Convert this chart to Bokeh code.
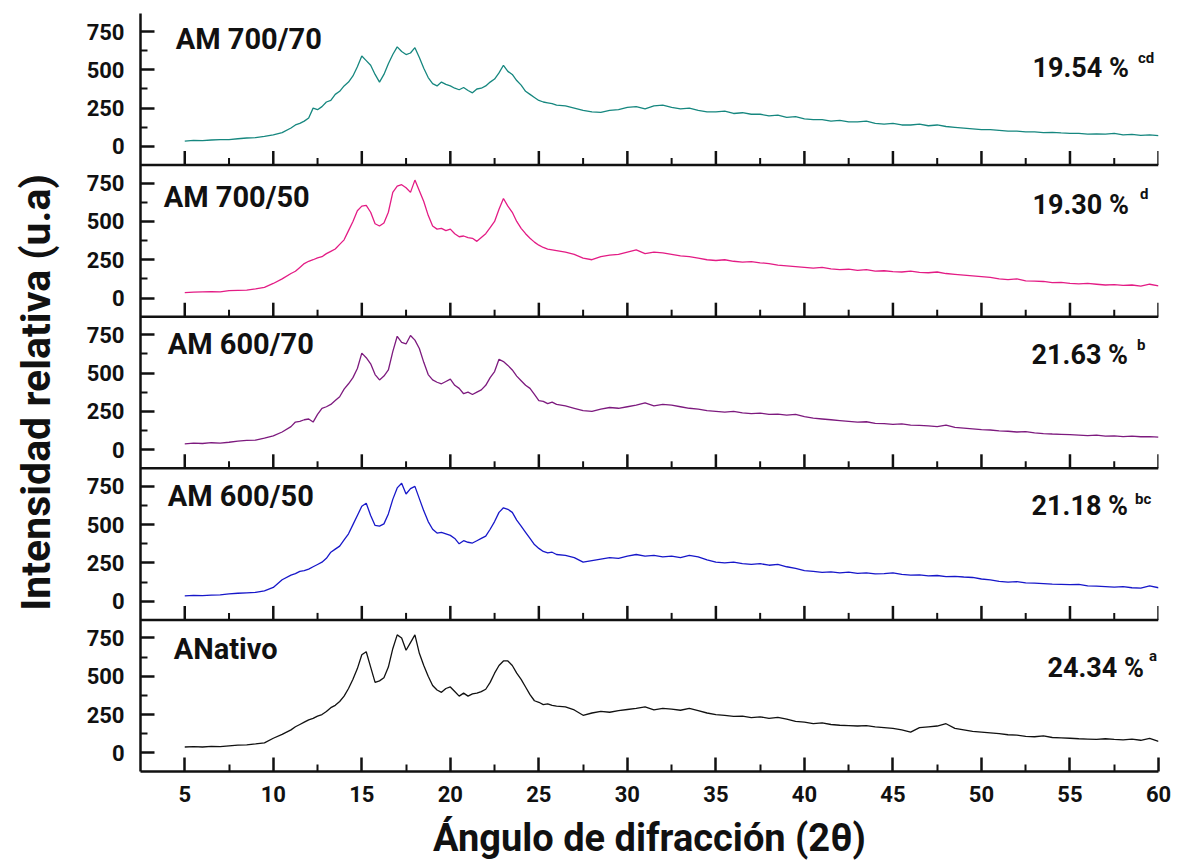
import numpy as np
from bokeh.plotting import figure
from bokeh.models import Range1d, FixedTicker, Span
from bokeh.core.properties import value
from bokeh.embed import file_html
from bokeh.resources import INLINE

# ---------------- data ----------------
X_LOW = [5.0, 5.5, 6.0, 6.5, 7.0, 7.5, 8.0, 8.5, 9.0, 9.5, 10.0, 10.5, 11.0]
X_MID = [11.25, 11.5, 11.75, 12.0, 12.25, 12.5, 12.75, 13.0, 13.25, 13.5, 13.75, 14.0,
         14.25, 14.5, 14.75, 15.0, 15.25, 15.5, 15.75, 16.0, 16.25, 16.5, 16.75, 17.0,
         17.25, 17.5, 17.75, 18.0, 18.25, 18.5, 18.75, 19.0, 19.25, 19.5, 19.75, 20.0,
         20.25, 20.5, 20.75, 21.0, 21.25, 21.5, 21.75, 22.0, 22.25, 22.5, 22.75, 23.0,
         23.25, 23.5, 23.75, 24.0, 24.25, 24.5, 24.75, 25.0, 25.25, 25.5, 25.75, 26.0]
X_HIGH = [26.5, 27.0, 27.5, 28.0, 28.5, 29.0, 29.5, 30.0, 30.5, 31.0, 31.5, 32.0, 32.5,
          33.0, 33.5, 34.0, 34.5, 35.0, 35.5, 36.0, 36.5, 37.0, 37.5, 38.0, 38.5, 39.0,
          39.5, 40.0, 40.5, 41.0, 41.5, 42.0, 42.5, 43.0, 43.5, 44.0, 44.5, 45.0, 45.5,
          46.0, 46.5, 47.0, 47.5, 48.0, 48.5, 49.0, 49.5, 50.0, 50.5, 51.0, 51.5, 52.0,
          52.5, 53.0, 53.5, 54.0, 54.5, 55.0, 55.5, 56.0, 56.5, 57.0, 57.5, 58.0, 58.5,
          59.0, 59.5, 60.0]

AM700_70 = ([35, 40, 38, 42, 45, 44, 50, 55, 58, 65, 75, 90, 120]
            + [140, 150, 165, 185, 250, 240, 260, 290, 300, 340, 360, 395, 420, 460, 520, 590,
               560, 530, 470, 420, 470, 540, 600, 650, 620, 600, 610, 645, 580, 510, 450, 410,
               395, 420, 405, 395, 380, 370, 385, 365, 350, 375, 380, 395, 420, 440, 480, 530,
               490, 470, 430, 400, 360, 340, 320, 300, 290, 285, 280, 270]
            + [265, 250, 235, 225, 222, 235, 240, 255, 260, 245, 265, 270, 255, 245, 250, 235,
               225, 225, 230, 215, 220, 210, 210, 200, 205, 190, 195, 180, 175, 175, 165, 170,
               160, 160, 165, 150, 145, 150, 140, 140, 145, 135, 140, 130, 125, 120, 115, 110,
               110, 105, 100, 100, 95, 95, 90, 92, 88, 85, 85, 80, 82, 80, 85, 75, 78, 72, 75, 70])

AM700_50 = ([35, 38, 40, 42, 40, 48, 50, 52, 60, 70, 95, 125, 160]
            + [175, 200, 225, 240, 250, 262, 270, 290, 305, 320, 350, 380, 440, 500, 570, 600,
               605, 560, 485, 470, 490, 560, 690, 730, 740, 720, 690, 770, 700, 630, 540, 470,
               450, 455, 440, 450, 420, 400, 405, 395, 390, 370, 395, 420, 460, 500, 580, 650,
               600, 560, 500, 455, 420, 390, 365, 345, 330, 320, 315, 310]
            + [300, 285, 260, 250, 270, 280, 285, 300, 315, 290, 300, 295, 285, 275, 270, 260,
               250, 245, 250, 240, 235, 238, 230, 225, 215, 210, 205, 200, 195, 200, 190, 185,
               188, 180, 185, 175, 178, 172, 170, 175, 168, 165, 170, 160, 155, 150, 145, 140,
               135, 125, 120, 125, 112, 110, 108, 100, 102, 95, 92, 95, 90, 85, 88, 82, 85, 78, 90, 80])

AM600_70 = ([38, 42, 40, 45, 42, 48, 55, 60, 62, 75, 90, 115, 150]
            + [180, 185, 195, 200, 180, 230, 270, 280, 295, 320, 345, 395, 430, 470, 530, 630,
               600, 560, 490, 455, 480, 520, 640, 740, 700, 690, 745, 715, 660, 570, 490, 455,
               440, 430, 445, 460, 420, 400, 365, 375, 360, 375, 390, 420, 470, 510, 590, 575,
               550, 520, 480, 450, 420, 400, 360, 320, 315, 300, 310, 295]
            + [285, 270, 255, 250, 265, 275, 270, 280, 290, 305, 285, 295, 290, 280, 270, 265,
               255, 250, 245, 250, 240, 235, 238, 230, 232, 225, 230, 215, 205, 200, 195, 190,
               185, 180, 182, 172, 170, 165, 168, 160, 158, 155, 150, 160, 145, 140, 135, 130,
               128, 122, 120, 115, 118, 110, 105, 102, 100, 98, 95, 92, 95, 88, 90, 85, 88, 84, 85, 82])

AM600_50 = ([35, 38, 36, 40, 42, 48, 52, 55, 58, 68, 90, 140, 170]
            + [180, 195, 200, 210, 225, 240, 255, 280, 320, 340, 360, 400, 440, 500, 560, 620,
               640, 560, 495, 490, 505, 570, 665, 740, 770, 700, 735, 750, 670, 590, 520, 470,
               445, 450, 440, 430, 410, 375, 395, 385, 380, 395, 410, 425, 470, 520, 580, 610,
               600, 580, 530, 490, 450, 410, 370, 345, 325, 315, 320, 305]
            + [300, 285, 255, 265, 275, 285, 280, 295, 305, 295, 300, 290, 295, 285, 300, 290,
               270, 255, 250, 255, 245, 240, 245, 235, 240, 225, 215, 200, 195, 188, 192, 185,
               190, 182, 185, 178, 180, 185, 175, 170, 172, 165, 168, 160, 162, 158, 155, 145,
               140, 130, 125, 128, 120, 118, 115, 112, 110, 108, 110, 100, 98, 95, 92, 95, 88, 85, 100, 88])

ANATIVO = ([38, 40, 38, 42, 40, 45, 50, 52, 58, 65, 95, 120, 150]
           + [170, 185, 200, 215, 225, 240, 250, 270, 295, 310, 335, 370, 420, 480, 550, 640,
              660, 560, 460, 470, 490, 560, 680, 770, 750, 670, 720, 770, 650, 570, 500, 440,
              410, 395, 420, 430, 400, 370, 390, 370, 385, 390, 400, 415, 460, 520, 570, 600,
              600, 570, 520, 480, 430, 380, 340, 330, 315, 320, 310, 305]
           + [300, 280, 245, 260, 270, 265, 275, 283, 290, 300, 280, 290, 285, 278, 290, 275,
              260, 250, 245, 238, 240, 230, 235, 225, 232, 220, 205, 200, 190, 195, 185, 180,
              178, 175, 178, 170, 165, 160, 150, 135, 165, 170, 175, 190, 160, 150, 140, 135,
              130, 125, 118, 115, 108, 105, 110, 100, 98, 95, 92, 90, 88, 92, 88, 85, 90, 82, 95, 75])

SAMPLES = ["AM 700/70", "AM 700/50", "AM 600/70", "AM 600/50", "ANativo"]
CRYST = ["19.54 %", "19.30 %", "21.63 %", "21.18 %", "24.34 %"]
LETTERS = ["cd", "d", "b", "bc", "a"]
SERIES = [AM700_70, AM700_50, AM600_70, AM600_50, ANATIVO]
Y_TICKS = [0, 250, 500, 750]
Y_MINOR = [125, 375, 625]
X_TICKS = [5, 10, 15, 20, 25, 30, 35, 40, 45, 50, 55, 60]
X_MINOR = [7.5, 12.5, 17.5, 22.5, 27.5, 32.5, 37.5, 42.5, 47.5, 52.5, 57.5]

X = X_LOW + X_MID + X_HIGH
for s in SERIES:
    assert len(s) == len(X), (len(s), len(X))

# ---------------- style / layout ----------------
COLORS = ["#16877f", "#e31c85", "#7d1a7e", "#1717c9", "#111111"]
NAME_X = [4.49, 3.81, 4.04, 4.04, 4.38]
NAME_Y = [700, 662, 688, 688, 680]
PCT_X = [58.33, 58.33, 58.28, 58.28, 59.18]
PCT_Y = [515, 607, 620, 620, 556]
SUP_X = [58.84, 58.95, 58.78, 58.67, 59.46]
SUP_Y = [575, 680, 685, 668, 632]

STRIDE = 990
LO, HI = -122, 868
FONT = "Roboto"

p = figure(width=1181, height=863, output_backend="svg", toolbar_location=None,
           x_range=Range1d(2.5, 60), y_range=Range1d(LO, HI + STRIDE * 4),
           min_border_left=140, min_border_right=23, min_border_top=13, min_border_bottom=92,
           outline_line_color=None, background_fill_color="white", border_fill_color="white")
p.xgrid.visible = False
p.ygrid.visible = False

n = len(SERIES)
for i in range(n):
    k = n - 1 - i
    p.extra_y_ranges[f"r{i}"] = Range1d(LO - STRIDE * k, HI + STRIDE * (4 - k))

# left axis with repeated per-panel ticks
major = [STRIDE * k + v for k in range(n) for v in Y_TICKS]
minor = [STRIDE * k + v for k in range(n) for v in Y_MINOR]
p.yaxis.ticker = FixedTicker(ticks=major, minor_ticks=minor)
p.yaxis.major_label_overrides = {STRIDE * k + v: str(v) for k in range(n) for v in Y_TICKS}
p.yaxis.axis_label = "Intensidad relativa (u.a)"

p.xaxis.ticker = FixedTicker(ticks=X_TICKS, minor_ticks=X_MINOR)
p.xaxis.axis_label = "Ángulo de difracción (2θ)"

for ax in (p.xaxis[0], p.yaxis[0]):
    ax.axis_line_width = 2.5
    ax.axis_line_color = "#111111"
    ax.major_tick_line_width = 2.5
    ax.minor_tick_line_width = 2
    ax.major_tick_line_color = "#111111"
    ax.minor_tick_line_color = "#111111"
    ax.major_tick_in = 14
    ax.major_tick_out = 0
    ax.minor_tick_in = 7
    ax.minor_tick_out = 0
    ax.major_label_text_font = FONT
    ax.major_label_text_font_style = "bold"
    ax.major_label_text_font_size = "22px"
    ax.major_label_text_color = "#111111"
    ax.axis_label_text_font = FONT
    ax.axis_label_text_font_style = "bold"
    ax.axis_label_text_color = "#111111"

p.yaxis.major_label_standoff = 16
p.yaxis.axis_label_text_font_size = "41px"
p.yaxis.axis_label_standoff = 24
p.xaxis.major_label_standoff = 14
p.xaxis.axis_label_text_font_size = "38px"
p.xaxis.axis_label_standoff = 11

# inner panel separators with inward ticks
for k in range(1, n):
    yb = STRIDE * k + LO
    p.add_layout(Span(location=yb, dimension="width", line_color="#111111", line_width=2.5))
    p.ray(x=X_TICKS, y=[yb] * len(X_TICKS), length=14, angle=np.pi / 2,
          length_units="screen", line_color="#111111", line_width=2.5)
    p.ray(x=X_MINOR, y=[yb] * len(X_MINOR), length=7, angle=np.pi / 2,
          length_units="screen", line_color="#111111", line_width=2)

for i in range(n):
    rn = f"r{i}"
    p.line(X, SERIES[i], y_range_name=rn, line_color=COLORS[i], line_width=1.3)
    p.text(x=[NAME_X[i]], y=[NAME_Y[i]], text=[SAMPLES[i]], y_range_name=rn,
           text_font=value(FONT), text_font_style="bold", text_font_size="29px",
           text_align="left", text_baseline="middle", text_color="#111111")
    p.text(x=[PCT_X[i]], y=[PCT_Y[i]], text=[CRYST[i]], y_range_name=rn,
           text_font=value(FONT), text_font_style="bold", text_font_size="27px",
           text_align="right", text_baseline="middle", text_color="#111111")
    p.text(x=[SUP_X[i]], y=[SUP_Y[i]], text=[LETTERS[i]], y_range_name=rn,
           text_font=value(FONT), text_font_style="bold", text_font_size="15px",
           text_align="left", text_baseline="middle", text_color="#111111")

open("out.html", "w").write(file_html(p, INLINE))
